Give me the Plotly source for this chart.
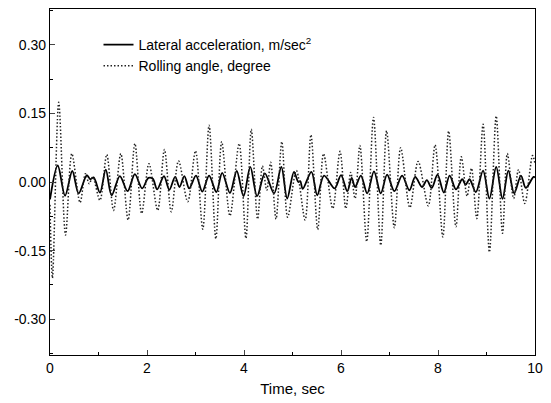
import plotly.graph_objects as go

# Lateral acceleration (solid) - extrema
accel_t = [0.0, 0.16, 0.31, 0.46, 0.59, 0.76, 0.83, 0.90, 1.03, 1.15, 1.27, 1.44, 1.60, 1.75, 1.90,
           2.03, 2.12, 2.21, 2.35, 2.46, 2.58, 2.67, 2.77, 2.87, 3.01, 3.14, 3.28, 3.43, 3.55, 3.71,
           3.85, 3.99, 4.13, 4.27, 4.43, 4.62, 4.77, 4.89, 5.03, 5.12, 5.16, 5.21, 5.39, 5.51, 5.65,
           5.87, 6.00, 6.13, 6.22, 6.29, 6.41, 6.54, 6.68, 6.82, 6.95, 7.10, 7.26, 7.41, 7.53, 7.67,
           7.77, 7.87, 7.99, 8.12, 8.24, 8.37, 8.50, 8.57, 8.65, 8.78, 8.93, 9.06, 9.20, 9.33, 9.45,
           9.57, 9.71, 9.81, 9.97, 10.0]
accel_v = [-0.038, 0.036, -0.030, 0.024, -0.025, 0.015, 0.006, 0.010, -0.023, 0.027, -0.029, 0.013,
           -0.020, 0.017, -0.014, 0.009, 0.007, -0.016, 0.013, -0.017, 0.011, -0.011, 0.013, -0.014,
           0.014, -0.021, 0.014, -0.022, 0.020, -0.024, 0.024, -0.031, 0.033, -0.031, 0.019, -0.025,
           0.033, -0.036, 0.022, 0.000, 0.002, -0.015, 0.022, -0.029, 0.014, -0.014, 0.015, -0.020,
           0.009, -0.011, 0.014, -0.025, 0.023, -0.025, 0.016, -0.020, 0.014, -0.018, 0.011, -0.011,
           0.004, -0.013, 0.016, -0.023, 0.014, -0.016, 0.006, -0.006, 0.006, -0.022, 0.025, -0.036,
           0.033, -0.037, 0.025, -0.025, 0.014, -0.013, 0.011, 0.010]

# Rolling angle (dotted) - extrema
roll_t = [0.0, 0.05, 0.18, 0.32, 0.45, 0.62, 0.73, 0.81, 0.88, 1.03, 1.17, 1.31, 1.46, 1.61, 1.75,
          1.89, 2.04, 2.22, 2.36, 2.50, 2.65, 2.84, 3.00, 3.15, 3.28, 3.42, 3.54, 3.71, 3.90, 4.04,
          4.15, 4.28, 4.38, 4.47, 4.55, 4.66, 4.78, 4.90, 5.08, 5.26, 5.38, 5.52, 5.64, 5.83, 5.98,
          6.10, 6.20, 6.29, 6.39, 6.53, 6.67, 6.82, 6.94, 7.10, 7.23, 7.42, 7.59, 7.80, 7.94, 8.10,
          8.22, 8.37, 8.48, 8.60, 8.69, 8.80, 8.93, 9.06, 9.20, 9.33, 9.43, 9.56, 9.66, 9.79, 9.95,
          10.0]
roll_v = [-0.05, -0.21, 0.174, -0.116, 0.062, -0.045, 0.018, -0.004, 0.011, -0.040, 0.060, -0.062,
          0.062, -0.083, 0.084, -0.069, 0.040, -0.062, 0.071, -0.065, 0.046, -0.043, 0.068, -0.103,
          0.124, -0.124, 0.088, -0.074, 0.084, -0.123, 0.115, -0.081, 0.035, -0.018, 0.043, -0.081,
          0.088, -0.077, 0.025, -0.083, 0.103, -0.104, 0.062, -0.058, 0.067, -0.058, 0.021, -0.036,
          0.080, -0.130, 0.141, -0.138, 0.112, -0.100, 0.075, -0.056, 0.045, -0.052, 0.081, -0.120,
          0.111, -0.098, 0.055, -0.031, 0.030, -0.080, 0.126, -0.153, 0.144, -0.112, 0.062, -0.036,
          0.027, -0.047, 0.058, 0.040]

x_ticks = [0, 2, 4, 6, 8, 10]
y_ticks = [-0.30, -0.15, 0.00, 0.15, 0.30]
y_tick_labels = ["-0.30", "-0.15", "0.00", "0.15", "0.30"]

FONT = "Arial, Liberation Sans, sans-serif"

fig = go.Figure()
fig.add_trace(go.Scatter(
    x=accel_t, y=accel_v, mode="lines",
    name="Lateral acceleration, m/sec<sup>2</sup>",
    line=dict(color="black", width=1.8, shape="spline", smoothing=0.9),
))
fig.add_trace(go.Scatter(
    x=roll_t, y=roll_v, mode="lines",
    name="Rolling angle, degree",
    line=dict(color="#222222", width=1.5, dash="1.5px,2px", shape="spline", smoothing=0.9),
))

fig.update_layout(
    width=551, height=403,
    margin=dict(l=50, r=10, t=8, b=48),
    paper_bgcolor="white", plot_bgcolor="white",
    font=dict(family=FONT, size=14, color="black"),
    showlegend=True,
    legend=dict(x=0.1, y=0.942, xanchor="left", yanchor="top",
                bgcolor="rgba(0,0,0,0)", font=dict(size=14, family=FONT),
                tracegroupgap=0, itemwidth=30),
)
fig.update_xaxes(
    range=[0, 10], tickvals=x_ticks, ticks="inside", ticklen=5, tickwidth=1,
    showline=True, linecolor="black", linewidth=1.2, mirror=True,
    showgrid=False, zeroline=False,
    minor=dict(dtick=1, tick0=0, ticks="inside", ticklen=3, tickcolor="black", showgrid=False),
    title=dict(text="Time, sec", font=dict(size=15, family=FONT), standoff=8),
    tickfont=dict(size=14, family=FONT),
)
fig.update_yaxes(
    range=[-0.378, 0.378], tickvals=y_ticks, ticktext=y_tick_labels,
    ticks="inside", ticklen=5, tickwidth=1,
    showline=True, linecolor="black", linewidth=1.2, mirror=True,
    showgrid=False, zeroline=False,
    minor=dict(dtick=0.075, tick0=0, ticks="inside", ticklen=3, tickcolor="black", showgrid=False),
    tickfont=dict(size=14, family=FONT),
)

fig.write_html("out.html")
